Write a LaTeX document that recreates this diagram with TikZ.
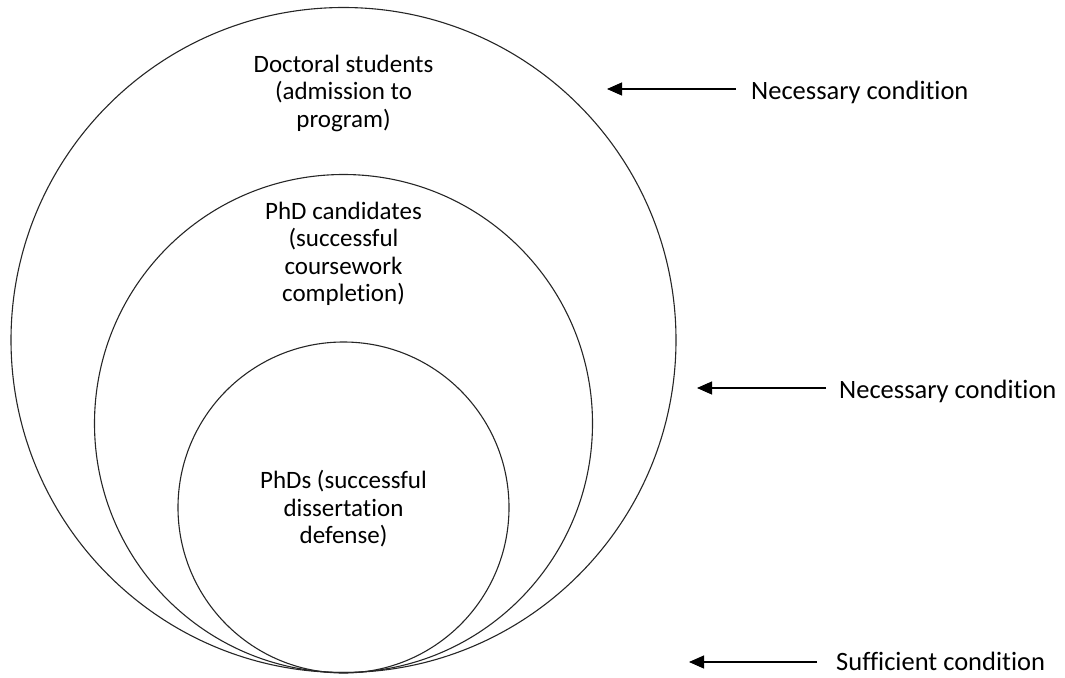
\documentclass[tikz,border=0pt]{standalone}
\usepackage{fontspec}
\setmainfont{Carlito}[Ligatures=NoCommon]
\usetikzlibrary{arrows.meta}
\begin{document}
\begin{tikzpicture}[x=1pt,y=-1pt,
  ring/.style={draw=black!85,line width=1.1pt},
  intext/.style={align=center,inner sep=0pt,font=\fontsize{25}{27.5}\selectfont},
  lbl/.style={anchor=west,inner sep=0pt,font=\fontsize{26.5}{30}\selectfont},
  arr/.style={line width=1.1pt,-{Triangle[length=15pt,width=13pt]}}]
\useasboundingbox (0,0) rectangle (1065,677);
% circles
\node[ring,circle,minimum size=665pt,inner sep=0pt] (outer) at (343.5,340) {};
\node[ring,circle,minimum size=498pt,inner sep=0pt] (middle) at (343.5,423.5) {};
\node[ring,circle,minimum size=331pt,inner sep=0pt] (inner) at (343.5,507.5) {};
% texts
\node[intext] (t1) at (343.5,93) {Doctoral students\\(admission to\\program)};
\node[intext] (t2) at (343.5,254) {PhD candidates\\(successful\\coursework\\completion)};
\node[intext] (t3) at (343.5,509) {PhDs (successful\\dissertation\\defense)};
% labels
\node[lbl] (l1) at (751,92) {Necessary condition};
\node[lbl] (l2) at (839,391) {Necessary condition};
\node[lbl] (l3) at (836,661) {Sufficient condition};
% arrows
\coordinate (a1s) at (736,89);  \coordinate (a1e) at (607,89);
\coordinate (a2s) at (826,388); \coordinate (a2e) at (697,388);
\coordinate (a3s) at (817,662); \coordinate (a3e) at (689,662);
\draw[arr] (a1s) -- (a1e);
\draw[arr] (a2s) -- (a2e);
\draw[arr] (a3s) -- (a3e);
\end{tikzpicture}
\end{document}
